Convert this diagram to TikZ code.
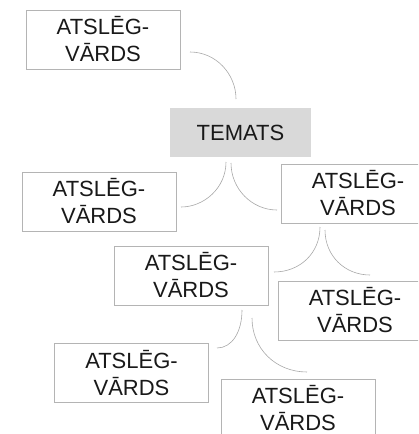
\documentclass[tikz,border=0pt]{standalone}
\usepackage{fontspec}
\setmainfont{Liberation Sans}
\begin{document}
\begin{tikzpicture}[x=1pt,y=-1pt,
  kw/.style={draw=boxgray,line width=0.7pt,fill=white,minimum width=154pt,minimum height=59pt,
    inner sep=0pt,align=center,font=\fontsize{22pt}{27pt}\selectfont,text=black!90},
  topic/.style={fill=topicgray,minimum width=141pt,minimum height=49pt,inner sep=0pt,
    font=\fontsize{22pt}{27pt}\selectfont,text=black!90},
  link/.style={draw=linkgray,line width=0.6pt}]
\definecolor{boxgray}{HTML}{B4B4B4}
\definecolor{topicgray}{HTML}{D9D9D9}
\definecolor{linkgray}{HTML}{A8A8A8}
\useasboundingbox (0,0) rectangle (418,434);
\clip (0,0) rectangle (418,434);
\node[kw] (b1) at (103,39.5) {ATSLĒG-\\VĀRDS};
\node[topic] (tem) at (240.5,132.5) {TEMATS};
\node[kw] (b2) at (99,201.5) {ATSLĒG-\\VĀRDS};
\node[kw] (b3) at (358,193.5) {ATSLĒG-\\VĀRDS};
\node[kw] (b4) at (191,275.5) {ATSLĒG-\\VĀRDS};
\node[kw] (b5) at (355,310.5) {ATSLĒG-\\VĀRDS};
\node[kw] (b6) at (131.5,373) {ATSLĒG-\\VĀRDS};
\node[kw] (b7) at (298,408.5) {ATSLĒG-\\VĀRDS};
% connector end points (gaps to the boxes)
\coordinate (c1a) at (190,52);  \coordinate (c1b) at (236,99);
\coordinate (c2a) at (226,162); \coordinate (c2b) at (181,207);
\coordinate (c3a) at (231,163); \coordinate (c3b) at (277,210);
\coordinate (c4a) at (320,227); \coordinate (c4b) at (274,272);
\coordinate (c5a) at (325,230); \coordinate (c5b) at (370,275);
\coordinate (c6a) at (242,310); \coordinate (c6b) at (217,348);
\coordinate (c7a) at (252,318); \coordinate (c7b) at (307,372);
\draw[link] (c1a) .. controls (216,52) and (236,74) .. (c1b);
\draw[link] (c2a) .. controls (226,188) and (204,207) .. (c2b);
\draw[link] (c3a) .. controls (231,189) and (252,210) .. (c3b);
\draw[link] (c4a) .. controls (320,253) and (300,272) .. (c4b);
\draw[link] (c5a) .. controls (325,256) and (345,275) .. (c5b);
\draw[link] (c6a) .. controls (242,332) and (232,348) .. (c6b);
\draw[link] (c7a) .. controls (252,349) and (276,372) .. (c7b);
\end{tikzpicture}
\end{document}
